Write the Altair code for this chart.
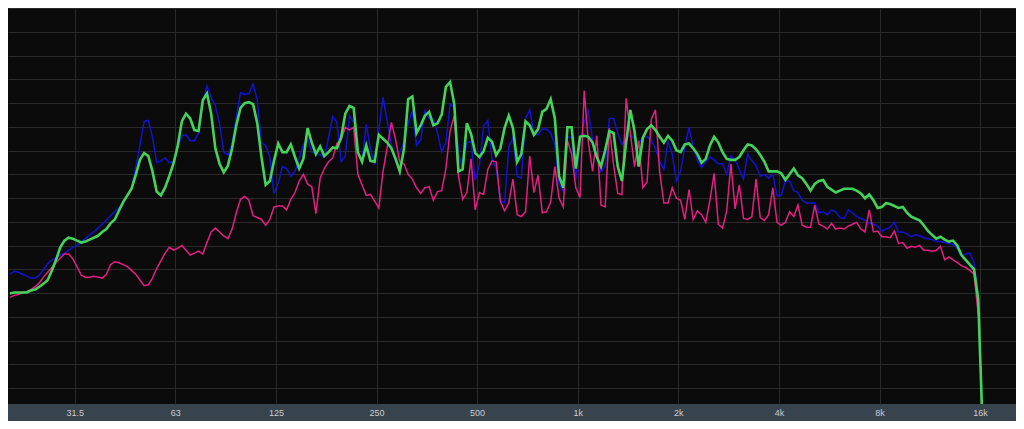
import altair as alt
import pandas as pd

# 1/24-octave analysis bins starting at 20 Hz
BINS_PER_OCTAVE = 24
F_START = 20.0

# levels in dB, one value per bin
blue_db = [
    -27.7, -27.4, -27.5, -27.7, -27.9, -28.1, -28.1, -27.8, -27.2, -26.6,
    -26.2, -26.0, -25.7, -25.5, -25.2, -24.9, -24.7, -24.3, -24.0, -23.6,
    -23.3, -22.9, -22.5, -22.1, -21.6, -21.2, -20.8, -20.3, -19.5, -18.8,
    -16.6, -14.3, -11.8, -11.7, -13.4, -16.1, -15.9, -15.6, -16.1, -16.0,
    -14.6, -13.3, -13.2, -13.8, -13.8, -13.0, -9.9, -8.1, -9.3, -10.2,
    -12.0, -15.0, -15.3, -14.2, -11.3, -8.8, -9.0, -8.9, -7.9, -9.6,
    -14.0, -14.3, -15.5, -19.3, -18.2, -16.5, -16.7, -17.5, -17.0, -15.7,
    -14.2, -13.6, -15.0, -15.1, -15.3, -15.5, -13.5, -11.3, -11.9, -16.0,
    -15.4, -11.2, -11.9, -15.0, -15.8, -12.1, -14.6, -16.3, -12.7, -9.3,
    -11.8, -14.2, -16.0, -15.0, -14.0, -12.0, -10.7, -14.3, -13.7, -10.7,
    -11.5, -11.5, -13.0, -15.0, -14.0, -10.0, -10.3, -15.0, -16.8, -14.0,
    -13.9, -17.9, -16.4, -12.3, -11.7, -15.7, -16.7, -20.0, -20.3, -14.5,
    -13.5, -17.5, -17.7, -11.5, -10.6, -13.0, -13.2, -12.6, -12.6, -13.0,
    -14.2, -18.3, -19.1, -13.4, -13.5, -17.8, -13.8, -11.8, -10.7, -13.8,
    -15.2, -17.0, -16.4, -11.5, -11.5, -13.0, -14.2, -13.5, -13.2, -13.6,
    -14.1, -13.4, -13.4, -13.7, -14.6, -16.0, -16.8, -13.8, -15.2, -18.0,
    -17.0, -14.5, -12.4, -14.5, -15.8, -16.6, -16.0, -15.5, -15.8, -16.2,
    -16.2, -17.3, -15.4, -15.8, -16.8, -17.8, -15.2, -15.9, -16.4, -17.5,
    -17.3, -17.7, -17.3, -19.5, -19.5, -18.0, -18.0, -19.0, -19.2, -20.0,
    -20.3, -20.3, -20.3, -21.3, -21.2, -21.5, -21.0, -21.2, -21.8, -21.9,
    -21.0, -21.3, -21.7, -21.9, -22.1, -22.4, -22.5, -22.7, -23.2, -23.0,
    -22.8, -22.3, -23.3, -23.3, -23.5, -23.8, -23.6, -23.7, -23.9, -24.0,
    -24.1, -24.3, -24.3, -24.4, -24.5, -24.6, -25.0, -25.8, -25.6, -25.5,
    -26.5, -30.0, -43.0,
]

green_db = [
    -29.7, -29.6, -29.6, -29.6, -29.6, -29.4, -29.3, -29.0, -28.7, -28.3,
    -27.3, -26.2, -24.9, -24.2, -23.9, -24.0, -24.2, -24.4, -24.3, -24.1,
    -23.9, -23.7, -23.3, -23.0, -22.4, -22.0, -21.1, -20.2, -19.5, -18.8,
    -17.4, -15.8, -15.1, -15.4, -17.0, -19.1, -19.5, -18.7, -17.5, -16.2,
    -14.4, -11.8, -11.0, -11.5, -12.7, -12.8, -9.6, -8.9, -11.0, -14.6,
    -16.2, -17.1, -16.4, -14.6, -12.2, -10.4, -9.9, -9.8, -10.0, -12.0,
    -15.5, -18.4, -18.0, -15.9, -14.1, -15.0, -15.0, -14.2, -15.5, -16.7,
    -15.7, -12.5, -14.0, -15.2, -14.4, -15.4, -15.0, -14.5, -14.6, -13.5,
    -11.0, -10.2, -10.4, -15.0, -16.0, -14.3, -15.9, -16.0, -13.2, -13.6,
    -14.0, -14.6, -15.7, -17.0, -14.7, -9.5, -9.2, -13.0, -12.2, -11.2,
    -10.8, -12.2, -12.0, -11.1, -8.2, -7.7, -10.0, -17.0, -16.8, -12.0,
    -13.1, -15.1, -15.5, -14.9, -13.5, -13.9, -15.3, -14.6, -12.5, -11.2,
    -12.5, -16.0, -15.2, -11.8, -12.2, -13.2, -12.6, -10.8, -10.5, -9.5,
    -11.5, -17.5, -18.7, -12.4, -12.4, -16.7, -13.4, -13.3, -13.4, -14.0,
    -15.5, -16.5, -14.8, -12.8, -13.0, -16.5, -18.0, -14.0, -10.6, -12.8,
    -16.5, -13.5, -12.6, -12.2, -12.7, -13.4, -14.0, -13.3, -13.8, -14.8,
    -15.0, -14.2, -14.1, -14.6, -15.2, -16.1, -15.7, -14.3, -13.4, -14.0,
    -15.0, -15.7, -15.8, -15.8, -15.5, -14.8, -14.2, -14.3, -14.7, -15.3,
    -16.0, -17.0, -17.0, -17.0, -17.2, -17.9, -17.3, -16.7, -17.4, -17.7,
    -18.3, -19.0, -18.3, -18.0, -17.9, -18.6, -18.9, -19.2, -19.0, -18.8,
    -18.8, -18.8, -19.0, -19.3, -19.8, -19.4, -20.0, -20.8, -20.7, -20.3,
    -20.4, -20.6, -20.8, -20.7, -21.3, -21.7, -21.9, -22.1, -22.6, -23.2,
    -23.6, -24.0, -23.8, -24.1, -24.3, -24.2, -24.7, -25.7, -26.2, -26.7,
    -27.2, -30.3, -43.0,
]

pink_db = [
    -30.1, -29.9, -29.8, -29.6, -29.5, -29.3, -29.0, -28.6, -28.0, -27.5,
    -27.0, -26.5, -26.0, -25.6, -25.6, -26.1, -26.9, -27.8, -28.0, -28.0,
    -27.9, -28.0, -28.1, -27.7, -26.7, -26.4, -26.5, -26.7, -26.9, -27.3,
    -27.7, -28.3, -28.9, -28.8, -28.1, -27.1, -26.3, -25.5, -24.9, -25.2,
    -25.0, -24.7, -25.2, -25.7, -25.5, -25.3, -25.6, -24.4, -23.3, -22.9,
    -23.3, -23.7, -24.0, -23.0, -21.3, -19.9, -19.6, -20.0, -21.6, -21.8,
    -22.0, -22.6, -22.0, -20.7, -20.6, -20.6, -21.0, -19.9, -19.2, -18.0,
    -17.3, -18.3, -18.6, -21.4, -17.7, -16.7, -16.0, -15.6, -14.1, -13.7,
    -12.4, -12.7, -12.4, -17.3, -18.4, -19.5, -19.4, -20.1, -20.8, -17.0,
    -14.5, -11.9, -13.7, -16.0, -16.2, -17.3, -17.8, -18.7, -19.3, -18.7,
    -18.6, -20.0, -19.1, -19.0, -16.7, -12.8, -11.2, -17.5, -19.9, -19.2,
    -15.7, -21.0, -19.2, -19.4, -16.8, -15.9, -16.0, -20.1, -21.1, -20.3,
    -17.8, -21.5, -21.7, -21.2, -15.4, -19.2, -17.4, -21.3, -21.2, -20.2,
    -16.5, -19.8, -20.7, -13.8, -15.2, -18.7, -19.7, -8.6, -14.0, -17.0,
    -13.3, -20.5, -20.7, -12.5, -16.3, -19.3, -19.4, -9.4, -13.0, -16.5,
    -13.8, -18.7, -18.1, -11.6, -10.6, -17.0, -20.3, -20.3, -18.7, -19.8,
    -20.0, -22.0, -18.9, -22.0, -21.1, -21.5, -22.3, -20.0, -17.2, -22.5,
    -22.9, -21.1, -16.2, -20.9, -18.4, -21.9, -22.0, -21.7, -17.8, -21.8,
    -22.1, -21.5, -18.7, -22.3, -22.6, -22.3, -21.2, -21.7, -20.5, -22.6,
    -22.8, -22.8, -20.5, -22.5, -22.7, -23.0, -22.4, -23.0, -22.9, -23.0,
    -22.7, -22.5, -22.3, -23.0, -23.3, -21.0, -23.3, -23.2, -23.8, -23.8,
    -23.9, -23.2, -24.5, -24.4, -25.0, -24.8, -24.9, -24.7, -25.2, -25.2,
    -25.3, -25.2, -24.8, -26.2, -25.9, -26.2, -26.5, -26.8, -27.0, -27.3,
    -27.7, -31.8,
]

tick_values = [31.25, 62.5, 125, 250, 500, 1000, 2000, 4000, 8000, 16000]
tick_labels = ["31.5", "63", "125", "250", "500", "1k", "2k", "4k", "8k", "16k"]

# ---------------------------------------------------------------------------
def frame(levels, name):
    return pd.DataFrame({
        "freq": [F_START * 2 ** (i / BINS_PER_OCTAVE) for i in range(len(levels))],
        "level": levels,
        "series": name,
    })

label_expr = "''"
for v, lab in reversed(list(zip(tick_values, tick_labels))):
    label_expr = f"datum.value == {v} ? '{lab}' : " + label_expr

Y_MIN = -41.2
grid_step = 2.472
y_grid = [-(k * grid_step) for k in range(17)]

x_enc = alt.X(
    "freq:Q",
    scale=alt.Scale(type="log", domain=[19.73, 20490], nice=False),
    axis=alt.Axis(
        values=tick_values, labelExpr=label_expr, title=None,
        domain=False, ticks=False, grid=True, gridColor="#2a2a2a", gridWidth=1,
        labelColor="#c8cdd2", labelFont="Liberation Sans", labelFontSize=9,
        labelPadding=4, labelFlush=False,
    ),
)
y_enc = alt.Y(
    "level:Q",
    scale=alt.Scale(domain=[Y_MIN, 0], nice=False, zero=False),
    axis=alt.Axis(
        values=y_grid, labels=False, ticks=False, domain=False, title=None,
        grid=True, gridColor="#2a2a2a", gridWidth=1,
    ),
)

blue = alt.Chart(frame(blue_db, "blue")).mark_line(
    color="#1212d6", strokeWidth=1.5, clip=True).encode(x=x_enc, y=y_enc)
pink = alt.Chart(frame(pink_db, "pink")).mark_line(
    color="#e61e84", strokeWidth=1.5, clip=True).encode(x=x_enc, y=y_enc)
green = alt.Chart(frame(green_db, "green")).mark_line(
    color="#44d35a", strokeWidth=2.6, clip=True).encode(x=x_enc, y=y_enc)

chart = alt.layer(blue, pink, green).properties(
    width=1008,
    height=396,
    padding={"left": 0, "right": 0, "top": 0, "bottom": 17},
    autosize=alt.AutoSizeParams(type="none"),
    background="#37434d",
).configure_view(fill="#0b0b0b", strokeWidth=0)

chart.save("out.html", embed_options={"renderer": "svg", "actions": False})
